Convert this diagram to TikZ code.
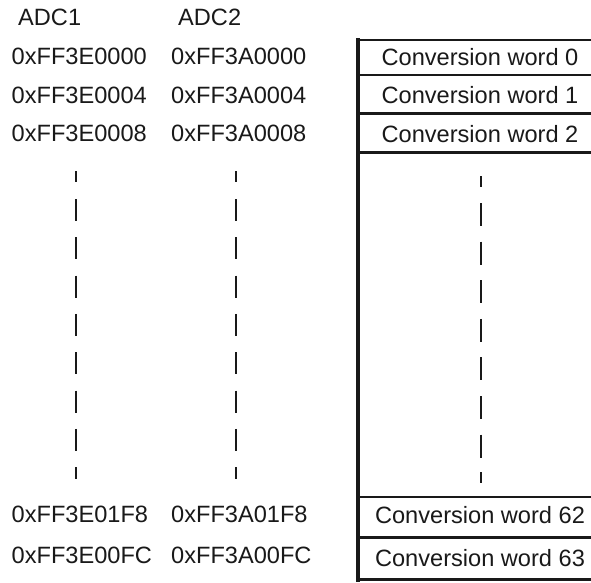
\documentclass[tikz,border=0pt]{standalone}
\usepackage{fontspec}
\setmainfont{Liberation Sans}
\begin{document}
\begin{tikzpicture}[x=1pt,y=-1pt,
  lbl/.style={inner sep=0pt,anchor=base west,font=\fontsize{23.6}{28}\selectfont,text=black!90},
  cw/.style={inner sep=0pt,anchor=base,font=\fontsize{23.6}{28}\selectfont,text=black!90},
  rowline/.style={line width=2.4pt,draw=black!90},
  leftline/.style={line width=4.5pt,draw=black!90},
  dashcol/.style={line width=2pt,draw=black!90}]
\useasboundingbox (0,0) rectangle (591,582);
% headers
\node[lbl] (adc1) at (18,25) {ADC1};
\node[lbl] (adc2) at (178,25) {ADC2};
% ADC1 addresses
\node[lbl] (a0) at (11.5,64) {0xFF3E0000};
\node[lbl] (a1) at (11.5,103) {0xFF3E0004};
\node[lbl] (a2) at (11.5,141.5) {0xFF3E0008};
\node[lbl] (a62) at (11.5,522) {0xFF3E01F8};
\node[lbl] (a63) at (11.5,563.5) {0xFF3E00FC};
% ADC2 addresses
\node[lbl] (b0) at (171,64) {0xFF3A0000};
\node[lbl] (b1) at (171,103) {0xFF3A0004};
\node[lbl] (b2) at (171,141.5) {0xFF3A0008};
\node[lbl] (b62) at (171,522) {0xFF3A01F8};
\node[lbl] (b63) at (171,563.5) {0xFF3A00FC};
% memory block
\foreach \y in {40,75,113.5,152.5,497,537.5,579.5}{
  \draw[rowline] (358,\y) -- (591,\y);
}
\draw[leftline] (358,38) -- (358,581.5);
\node[cw] (c0) at (480,65) {Conversion word 0};
\node[cw] (c1) at (480,103.5) {Conversion word 1};
\node[cw] (c2) at (480,142) {Conversion word 2};
\node[cw] (c62) at (480,523) {Conversion word 62};
\node[cw] (c63) at (480,566.5) {Conversion word 63};
% dashed continuation lines
\draw[dashcol] (76,171) -- (76,182);
\draw[dashcol] (235.5,171) -- (235.5,182);
\draw[dashcol] (481,176) -- (481,187);
\foreach \k in {0,...,6}{
  \draw[dashcol] (76,{199+38.3*\k}) -- (76,{221+38.3*\k});
  \draw[dashcol] (235.5,{199+38.3*\k}) -- (235.5,{221+38.3*\k});
  \draw[dashcol] (481,{203+38.6*\k}) -- (481,{226+38.6*\k});
}
\draw[dashcol] (76,467) -- (76,479);
\draw[dashcol] (235.5,467) -- (235.5,479);
\draw[dashcol] (481,472) -- (481,483);
\end{tikzpicture}
\end{document}
